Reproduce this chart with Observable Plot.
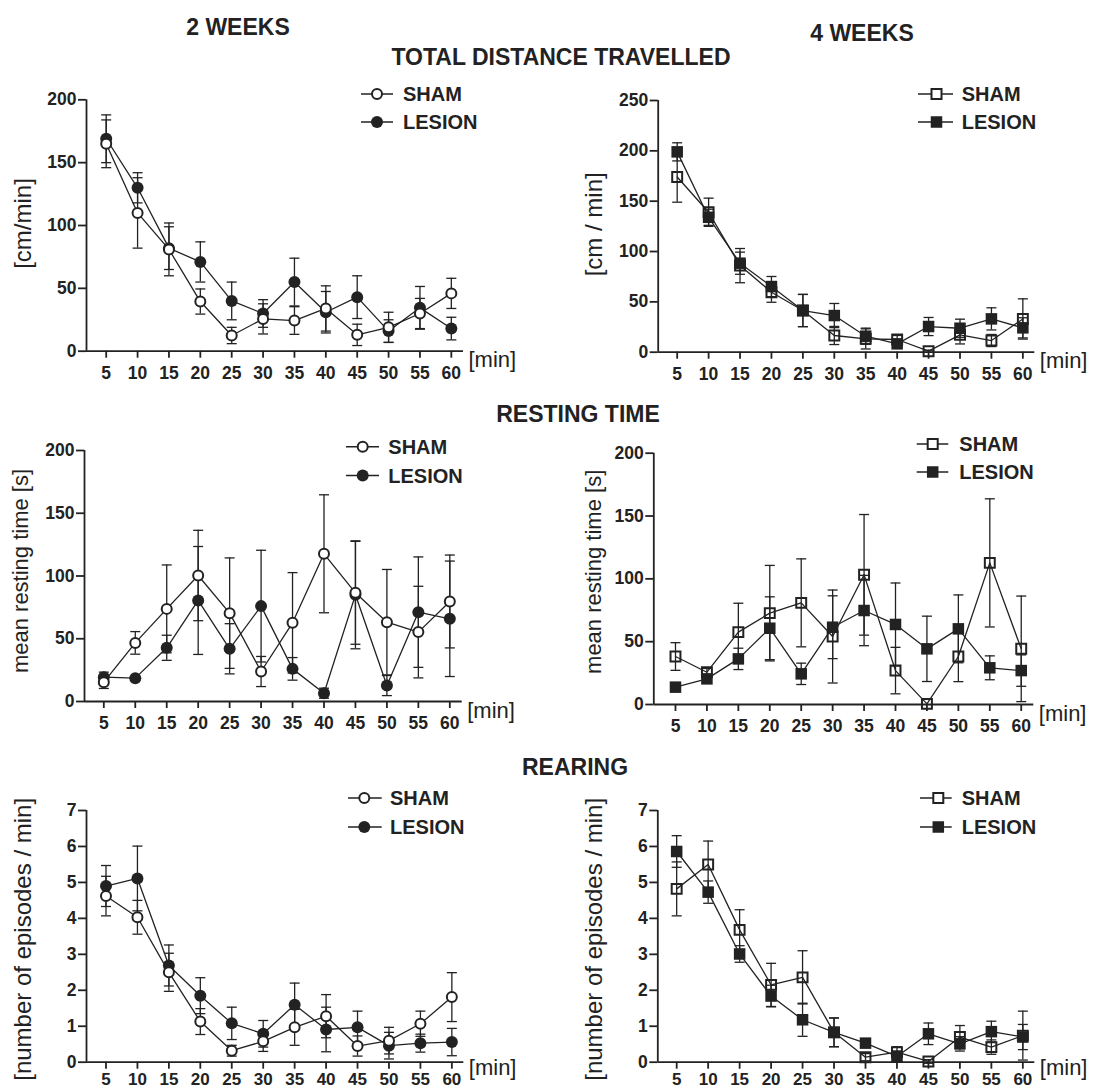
<!DOCTYPE html>
<html><head><meta charset="utf-8">
<script src="https://cdn.jsdelivr.net/npm/d3@7"></script>
<script src="https://cdn.jsdelivr.net/npm/@observablehq/plot@0.6"></script>
<style>
body{margin:0;background:#fff;}
#root{position:relative;width:1093px;height:1091px;overflow:hidden;font-family:"Liberation Sans",Arial,sans-serif;background:#fff;}
.panel{position:absolute;}
#overlay{position:absolute;left:0;top:0;}
</style></head><body><div id="root"></div>
<script>
// ---------- data ----------
const minutes = [5, 10, 15, 20, 25, 30, 35, 40, 45, 50, 55, 60];
const groups = ["SHAM", "LESION"];
const columnTitles = ["2 WEEKS", "4 WEEKS"];
const sectionTitles = ["TOTAL DISTANCE TRAVELLED", "RESTING TIME", "REARING"];
const yLabels = ["[cm/min]", "[cm / min]", "mean resting time [s]", "mean resting time [s]", "[number of episodes / min]", "[number of episodes / min]"];
const xUnit = "[min]";

// total distance travelled, 2 weeks
const dist2wSham = [165, 110, 81, 39.5, 12.5, 25.7, 24.4, 34, 13, 19, 30, 46];
const dist2wShamErr = [19, 28, 21, 10, 6.5, 12, 11, 18, 8.5, 12, 12, 12];
const dist2wLesion = [169, 130, 82, 71, 40, 30, 55, 31, 43, 16, 34.5, 18];
const dist2wLesionErr = [19, 12, 17, 16, 15, 11, 19, 16.5, 17, 9, 17, 9];
// total distance travelled, 4 weeks
const dist4wSham = [174, 139, 86, 59.6, 41.4, 16.6, 13.2, 12.6, 1, 17.2, 11.6, 33];
const dist4wShamErr = [25, 14, 17, 10, 16, 9, 10, 4, 1, 9, 6, 20];
const dist4wLesion = [199, 134, 88.4, 65.2, 41.4, 36.4, 15.9, 8.3, 25.5, 23.8, 33.1, 24.2];
const dist4wLesionErr = [9, 8, 11, 10, 16, 12, 8, 4, 9, 9, 11, 10];
// resting time, 2 weeks
const rest2wSham = [15.4, 46.7, 73.8, 100.4, 70.4, 23.9, 62.7, 117.7, 86.6, 63.2, 55.3, 79.7];
const rest2wShamErr = [5, 9, 35, 36, 44, 12, 40, 47, 41, 42, 36.5, 37];
const rest2wLesion = [19.4, 18.6, 42.8, 80.5, 42, 76, 26, 6.6, 85, 12.7, 71.2, 65.9];
const rest2wLesionErr = [4, 0, 10, 43, 20, 44.5, 9, 4, 43, 8, 44, 46];
// resting time, 4 weeks
const rest4wSham = [38.2, 25.7, 57.6, 72.7, 80.9, 54.1, 103.2, 27, 0.5, 38.2, 112.7, 44.3];
const rest4wShamErr = [11, 3, 23, 38, 35, 37, 48, 18.5, 0, 20, 51, 42];
const rest4wLesion = [13.8, 20.4, 36.3, 60.7, 24.4, 61.5, 74.8, 63.7, 44.3, 60.2, 29.2, 27];
const rest4wLesionErr = [0, 3, 8.5, 25, 8.5, 25, 28, 33, 26, 27, 9.5, 12.5];
// rearing, 2 weeks
const rear2wSham = [4.62, 4.03, 2.5, 1.13, 0.32, 0.58, 0.97, 1.28, 0.45, 0.6, 1.07, 1.81];
const rear2wShamErr = [0.55, 0.47, 0.53, 0.36, 0.15, 0.28, 0.5, 0.6, 0.28, 0.37, 0.35, 0.68];
const rear2wLesion = [4.9, 5.11, 2.69, 1.85, 1.08, 0.79, 1.6, 0.91, 0.97, 0.46, 0.53, 0.56];
const rear2wLesionErr = [0.57, 0.9, 0.57, 0.5, 0.45, 0.37, 0.6, 0.62, 0.45, 0.37, 0.25, 0.38];
// rearing, 4 weeks
const rear4wSham = [4.82, 5.5, 3.68, 2.15, 2.36, 0.83, 0.14, 0.28, 0.02, 0.7, 0.42, 0.74];
const rear4wShamErr = [0.75, 0.65, 0.56, 0.6, 0.74, 0.4, 0.1, 0.15, 0.05, 0.32, 0.2, 0.68];
const rear4wLesion = [5.86, 4.73, 3.01, 1.84, 1.18, 0.83, 0.53, 0.16, 0.79, 0.51, 0.85, 0.7];
const rear4wLesionErr = [0.44, 0.31, 0.23, 0.3, 0.46, 0.4, 0.1, 0.15, 0.3, 0.2, 0.29, 0.35];

const distTicks = [0, 50, 100, 150, 200];
const dist4wTicks = [0, 50, 100, 150, 200, 250];
const restTicks = [0, 50, 100, 150, 200];
const rearTicks = [0, 1, 2, 3, 4, 5, 6, 7];

// ---------- layout (page pixels) ----------
const INK = "#222";
const FONT = "'Liberation Sans', Arial, Helvetica, sans-serif";
const panels = [
  {box:{x:0,y:70,w:545,h:325}, frame:{l:86,r:463,t:99.3,b:350.7}, xDomain:[1.86,61.94], yDomain:[0,200], yTicks:distTicks,
   sham:dist2wSham, shamErr:dist2wShamErr, lesion:dist2wLesion, lesionErr:dist2wLesionErr, square:false, yl:0, ylX:22.5, ylSize:24, ylDy:-2,
   xPad:8, xSize:17.5, unitDy:16, legend:{l1:361,l2:393,m:377,tx:403,cy:[94,122]}},
  {box:{x:545,y:70,w:548,h:325}, frame:{l:657.7,r:1034.3,t:100,b:351.7}, xDomain:[1.98,61.9], yDomain:[0,250], yTicks:dist4wTicks,
   sham:dist4wSham, shamErr:dist4wShamErr, lesion:dist4wLesion, lesionErr:dist4wLesionErr, square:true, yl:1, ylX:594, ylSize:24, ylDy:-2,
   xPad:8, xSize:17.5, unitDy:16, legend:{l1:918,l2:953,m:936.5,tx:961.7,cy:[94,122]}},
  {box:{x:0,y:425,w:545,h:315}, frame:{l:84,r:461.7,t:450,b:701}, xDomain:[1.93,61.97], yDomain:[0,200], yTicks:restTicks,
   sham:rest2wSham, shamErr:rest2wShamErr, lesion:rest2wLesion, lesionErr:rest2wLesionErr, square:false, yl:2, ylX:20, ylSize:22, ylDy:-5,
   xPad:8, xSize:17.5, unitDy:16, legend:{l1:346,l2:379,m:362.7,tx:388.3,cy:[446.7,475.5]}},
  {box:{x:545,y:425,w:548,h:315}, frame:{l:653.3,r:1033.3,t:452.7,b:704}, xDomain:[1.55,62.0], yDomain:[0,200], yTicks:restTicks,
   sham:rest4wSham, shamErr:rest4wShamErr, lesion:rest4wLesion, lesionErr:rest4wLesionErr, square:true, yl:3, ylX:593.3, ylSize:22, ylDy:-7,
   xPad:8, xSize:17.5, unitDy:16, legend:{l1:916.7,l2:948.3,m:932.7,tx:959.3,cy:[444,472]}},
  {box:{x:0,y:785,w:545,h:306}, frame:{l:86,r:463.3,t:810,b:1061.7}, xDomain:[1.9,61.9], yDomain:[0,7], yTicks:rearTicks,
   sham:rear2wSham, shamErr:rear2wShamErr, lesion:rear2wLesion, lesionErr:rear2wLesionErr, square:false, yl:4, ylX:22.5, ylSize:24, ylDy:3,
   xPad:4, xSize:17, unitDy:13, legend:{l1:348,l2:381.7,m:364.3,tx:390,cy:[798,827]}},
  {box:{x:545,y:785,w:548,h:306}, frame:{l:657.3,r:1034.3,t:810,b:1061.7}, xDomain:[2,61.9], yDomain:[0,7], yTicks:rearTicks,
   sham:rear4wSham, shamErr:rear4wShamErr, lesion:rear4wLesion, lesionErr:rear4wLesionErr, square:true, yl:5, ylX:594, ylSize:24, ylDy:3,
   xPad:4, xSize:17, unitDy:13, legend:{l1:920,l2:951.7,m:938.3,tx:961.7,cy:[798,827]}}
];

const root = document.getElementById("root");
const cap = {draw(ctx){ ctx.moveTo(-5, 0); ctx.lineTo(5, 0); }};

function rows(mean, err, group) {
  return minutes.map((m, i) => ({x: m, y: mean[i], lo: mean[i] - err[i], hi: mean[i] + err[i], err: err[i], group}));
}

for (const p of panels) {
  const {box, frame} = p;
  const S = rows(p.sham, p.shamErr, groups[0]);
  const L = rows(p.lesion, p.lesionErr, groups[1]);
  const E = S.concat(L).filter(d => d.err > 0);
  const sym = p.square ? "square" : "circle";
  const chart = Plot.plot({
    width: box.w, height: box.h,
    marginLeft: frame.l - box.x, marginRight: box.x + box.w - frame.r,
    marginTop: frame.t - box.y, marginBottom: box.y + box.h - frame.b,
    style: {fontFamily: FONT, color: INK, background: "transparent", overflow: "visible", fontWeight: "bold"},
    x: {domain: p.xDomain},
    y: {domain: p.yDomain},
    marks: [
      Plot.ruleX(E, {x: "x", y1: "lo", y2: "hi", stroke: INK, strokeWidth: 1.3}),
      Plot.dot(E, {x: "x", y: "hi", symbol: cap, r: 3, fill: "none", stroke: INK, strokeWidth: 1.3}),
      Plot.dot(E, {x: "x", y: "lo", symbol: cap, r: 3, fill: "none", stroke: INK, strokeWidth: 1.3}),
      Plot.line(S, {x: "x", y: "y", stroke: INK, strokeWidth: 1.3}),
      Plot.line(L, {x: "x", y: "y", stroke: INK, strokeWidth: 1.3}),
      Plot.ruleY([p.yDomain[0]], {stroke: INK, strokeWidth: 1.8}),
      Plot.ruleX([p.xDomain[0]], {stroke: INK, strokeWidth: 1.8}),
      Plot.axisX({ticks: minutes, tickSize: 7, tickPadding: p.xPad, fontSize: p.xSize, fontWeight: "bold", label: null,
                  tickFormat: d => String(d), stroke: INK, strokeWidth: 1.8}),
      Plot.axisY({ticks: p.yTicks, tickSize: 8, tickPadding: 2, fontSize: 17.5, fontWeight: "bold", label: null,
                  tickFormat: d => String(d), stroke: INK, strokeWidth: 1.8}),
      Plot.dot(L, {x: "x", y: "y", symbol: sym, r: p.square ? 6.5 : 6, fill: INK, stroke: "none"}),
      Plot.dot(S, {x: "x", y: "y", symbol: sym, r: p.square ? 5.6 : 5, fill: p.square ? "none" : "white", stroke: INK, strokeWidth: 2}),
      Plot.text([xUnit], {text: d => d, frameAnchor: "bottom-right", dx: 5, dy: p.unitDy, textAnchor: "start", fontSize: 22, fontWeight: "normal", fill: INK}),
      Plot.text([yLabels[p.yl]], {text: d => d, frameAnchor: "left", textAnchor: "middle", dx: -(frame.l - p.ylX), dy: p.ylDy,
                rotate: -90, fontSize: p.ylSize, fontWeight: "normal", fill: INK})
    ]
  });
  const div = document.createElement("div");
  div.className = "panel";
  div.style.left = box.x + "px";
  div.style.top = box.y + "px";
  div.appendChild(chart);
  root.appendChild(div);
}

// ---------- titles and legends overlay ----------
const svg = d3.select(root).append("svg").attr("id", "overlay")
  .attr("width", 1093).attr("height", 1091)
  .style("font-family", FONT).style("pointer-events", "none");

const titles = [
  {t: columnTitles[0], x: 238, y: 35},
  {t: columnTitles[1], x: 862, y: 41},
  {t: sectionTitles[0], x: 561, y: 65},
  {t: sectionTitles[1], x: 578, y: 422},
  {t: sectionTitles[2], x: 575, y: 775}
];
svg.selectAll("text.title").data(titles).join("text").attr("class", "title")
  .attr("x", d => d.x).attr("y", d => d.y).attr("text-anchor", "middle")
  .attr("font-size", 23).attr("font-weight", "bold").attr("fill", INK).text(d => d.t);

for (const p of panels) {
  const lg = p.legend;
  groups.forEach((g, i) => {
    const cy = lg.cy[i];
    svg.append("line").attr("x1", lg.l1).attr("x2", lg.l2).attr("y1", cy).attr("y2", cy)
      .attr("stroke", INK).attr("stroke-width", 1.5);
    const open = i === 0;
    if (p.square) {
      const s = open ? 10 : 11.5;
      svg.append("rect").attr("x", lg.m - s / 2).attr("y", cy - s / 2).attr("width", s).attr("height", s)
        .attr("fill", open ? "white" : INK).attr("stroke", open ? INK : "none").attr("stroke-width", 2);
    } else {
      svg.append("circle").attr("cx", lg.m).attr("cy", cy).attr("r", open ? 5 : 6)
        .attr("fill", open ? "white" : INK).attr("stroke", open ? INK : "none").attr("stroke-width", 2);
    }
    svg.append("text").attr("x", lg.tx).attr("y", cy + 7.2).attr("font-size", 20).attr("font-weight", "bold")
      .attr("fill", INK).text(g);
  });
}
</script>
</body></html>
